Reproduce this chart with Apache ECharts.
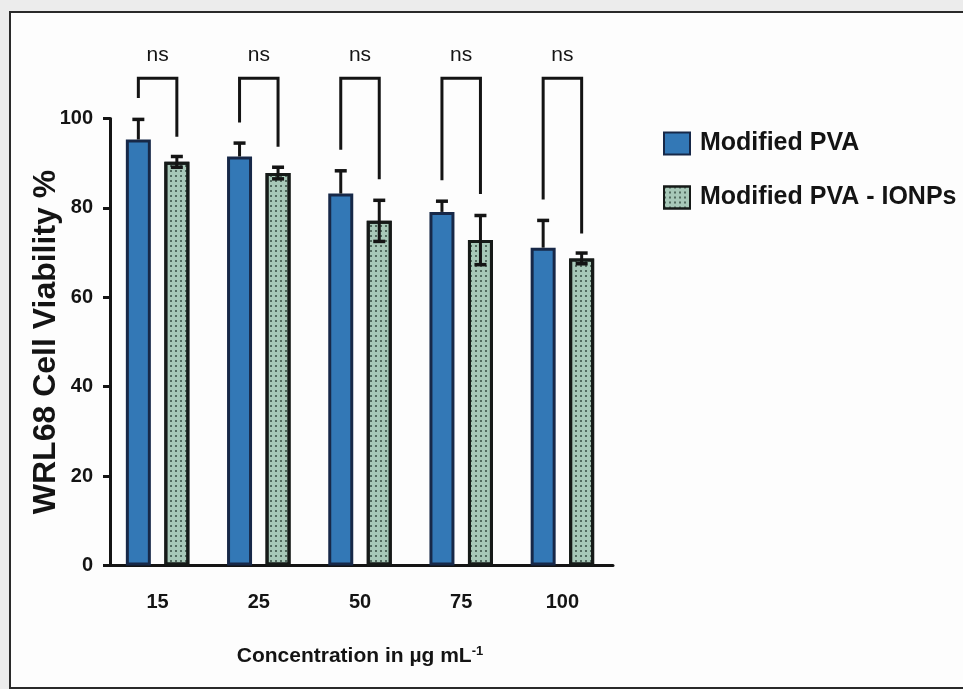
<!DOCTYPE html>
<html>
<head>
<meta charset="utf-8">
<script src="https://cdn.jsdelivr.net/npm/echarts@6/dist/echarts.min.js"></script>
<style>
  html, body { margin:0; padding:0; background:#ececec; }
  #frame { position:absolute; left:9px; top:11px; width:970px; height:674px;
           background:#fdfdfd; border:2px solid #2a2a2a; }
  #chart { position:absolute; left:0; top:0; width:963px; height:689px; }
</style>
</head>
<body>
<div id="frame"></div>
<div id="chart"></div>
<script>
// ---- data ----
const categories = ['15', '25', '50', '75', '100'];
const pvaMean  = [95.3, 91.5, 83.2, 79.1, 71.1];
const pvaErr   = [4.5, 3.0, 5.1, 2.4, 6.1];
const ionpMean = [90.3, 87.8, 77.1, 72.8, 68.7];
const ionpErr  = [1.2, 1.3, 4.6, 5.5, 1.2];
const bracketTop      = [109, 109, 109, 109, 109];
const bracketLeftEnd  = [104.6, 99.1, 93.0, 86.2, 81.9];
const bracketRightEnd = [95.9, 93.7, 86.4, 83.1, 74.3];
const sigLabels = ['ns', 'ns', 'ns', 'ns', 'ns'];
const sigLabelLevel = [114.2, 114.2, 114.2, 114.2, 114.2];
const seriesNames = ['Modified PVA', 'Modified PVA - IONPs'];

// ---- style ----
const SANS = "'Liberation Sans', Arial, sans-serif";
const BAR_W = 25, BAR_GAP = 0.54;
const HALF_OFF = BAR_W * (1 + BAR_GAP) / 2;
const INK = '#141414';

const chart = echarts.init(document.getElementById('chart'), null, {renderer: 'canvas'});

function errRender(sign, both) {
  return function (params, api) {
    const i = api.value(0), m = api.value(1), e = api.value(2);
    const base = api.coord([i, m]);
    const x = base[0] + sign * HALF_OFF;
    const yTop = api.coord([i, m + e])[1];
    const yBot = both ? api.coord([i, m - e])[1] : base[1];
    const cap = 6;
    const st = {stroke: INK, lineWidth: 3};
    const ch = [
      {type: 'line', shape: {x1: x, y1: yBot, x2: x, y2: yTop}, style: st},
      {type: 'line', shape: {x1: x - cap, y1: yTop, x2: x + cap, y2: yTop}, style: {stroke: INK, lineWidth: 3.5}}
    ];
    if (both) ch.push({type: 'line', shape: {x1: x - cap, y1: yBot, x2: x + cap, y2: yBot}, style: {stroke: INK, lineWidth: 3.5}});
    return {type: 'group', children: ch};
  };
}

function bracketRender(params, api) {
  const i = api.value(0);
  const c = api.coord([i, api.value(1)]);
  const xl = c[0] - HALF_OFF, xr = c[0] + HALF_OFF;
  const yT = c[1];
  const yL = api.coord([i, api.value(2)])[1];
  const yR = api.coord([i, api.value(3)])[1];
  const yS = api.coord([i, api.value(4)])[1];
  return {type: 'group', children: [
    {type: 'polyline', shape: {points: [[xl, yL], [xl, yT], [xr, yT], [xr, yR]]},
     style: {stroke: INK, lineWidth: 3, fill: null}},
    {type: 'text', x: c[0], y: yS,
     style: {text: sigLabels[params.dataIndex], fill: INK, font: "21px " + SANS,
             align: 'center', verticalAlign: 'middle'}}
  ]};
}

const option = {
  backgroundColor: 'transparent',
  animation: false,
  grid: {left: 107, top: 118.5, width: 506, height: 447, containLabel: false},
  legend: {
    data: seriesNames, orient: 'vertical', left: 658, top: 126,
    itemWidth: 26, itemHeight: 22, itemGap: 29, icon: 'rect',
    textStyle: {fontFamily: SANS, fontWeight: 'bold', fontSize: 25, color: INK, padding: [0, 0, 0, 5]}
  },
  xAxis: {
    type: 'category', data: categories,
    axisLine: {lineStyle: {color: INK, width: 3}},
    axisTick: {alignWithLabel: true, length: 12, lineStyle: {color: INK, width: 3}},
    axisLabel: {margin: 27, fontFamily: SANS, fontWeight: 'bold', fontSize: 20, color: INK},
    name: 'Concentration in µg mL{sup|-1}', nameLocation: 'middle', nameGap: 79,
    nameMoveOverlap: false,
    nameTextStyle: {fontFamily: SANS, fontWeight: 'bold', fontSize: 21, color: INK,
      rich: {sup: {fontFamily: SANS, fontWeight: 'bold', fontSize: 13, color: INK,
                   verticalAlign: 'top', padding: [0, 0, 10, 0]}}}
  },
  yAxis: {
    type: 'value', min: 0, max: 100, interval: 20, offset: -3,
    splitLine: {show: false},
    axisLine: {show: true, lineStyle: {color: INK, width: 3}},
    axisTick: {show: true, length: 7, lineStyle: {color: INK, width: 3}},
    axisLabel: {margin: 17, fontFamily: SANS, fontWeight: 'bold', fontSize: 20, color: INK},
    name: 'WRL68 Cell Viability %', nameLocation: 'middle', nameGap: 48, nameRotate: 90,
    nameMoveOverlap: false,
    nameTextStyle: {fontFamily: SANS, fontWeight: 'bold', fontSize: 32, color: INK}
  },
  series: [
    {
      name: seriesNames[0], type: 'bar', data: pvaMean, barWidth: BAR_W, barGap: (BAR_GAP * 100) + '%',
      itemStyle: {color: '#3378b6', borderColor: '#172848', borderWidth: 3}
    },
    {
      name: seriesNames[1], type: 'bar', data: ionpMean, barWidth: BAR_W,
      itemStyle: {color: '#a7c8b8', borderColor: '#161a18', borderWidth: 3,
        decal: {symbol: 'rect', symbolSize: 1, dashArrayX: [[2, 3]], dashArrayY: [2, 3],
                color: 'rgba(25,45,35,0.6)', rotation: 0}}
    },
    {
      type: 'custom', renderItem: errRender(-1, false), z: 5,
      data: pvaMean.map((m, i) => [i, m, pvaErr[i]])
    },
    {
      type: 'custom', renderItem: errRender(1, true), z: 5,
      data: ionpMean.map((m, i) => [i, m, ionpErr[i]])
    },
    {
      type: 'custom', renderItem: bracketRender, z: 5, clip: false,
      data: categories.map((c, i) => [i, bracketTop[i], bracketLeftEnd[i], bracketRightEnd[i], sigLabelLevel[i]])
    }
  ]
};
chart.setOption(option);
</script>
</body>
</html>
